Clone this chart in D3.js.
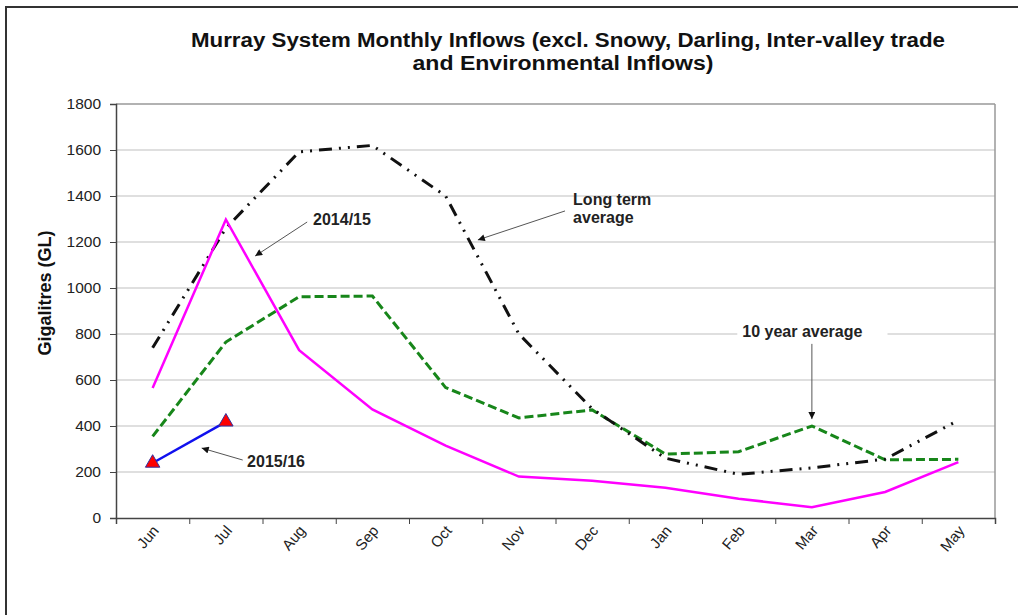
<!DOCTYPE html>
<html>
<head>
<meta charset="utf-8">
<script src="https://cdn.jsdelivr.net/npm/d3@7"></script>
<style>
  body { margin: 0; background: #fff; }
  text { font-family: "Liberation Sans", Arial, sans-serif; }
</style>
</head>
<body>
<div id="chart"></div>
<script>
// chart values
var months = ["Jun", "Jul", "Aug", "Sep", "Oct", "Nov", "Dec", "Jan", "Feb", "Mar", "Apr", "May"];
var longTermAvg = [740, 1260, 1592, 1620, 1400, 800, 475, 260, 190, 218, 256, 425];
var tenYearAvg = [355, 765, 962, 965, 567, 435, 470, 278, 288, 400, 253, 255];
var inflows1415 = [565, 1298, 730, 472, 315, 180, 162, 132, 84, 47, 113, 243];
var inflows1516 = [239, 418];
var yTicks = [0, 200, 400, 600, 800, 1000, 1200, 1400, 1600, 1800];

var W = 1018, H = 615;
var margin = {top: 104, right: 23, bottom: 97, left: 116};
var width = W - margin.left - margin.right,
    height = H - margin.top - margin.bottom;

var svg = d3.select("#chart").append("svg")
    .attr("width", W).attr("height", H);

// outer frame (only top and left show)
svg.append("rect")
    .attr("x", 6).attr("y", 7)
    .attr("width", W + 20).attr("height", H + 20)
    .attr("fill", "none").attr("stroke", "#333").attr("stroke-width", 2);

// title
var title = svg.append("text")
    .attr("text-anchor", "middle")
    .attr("font-size", 20).attr("font-weight", "bold")
    .attr("fill", "#111");
title.append("tspan").attr("x", 568).attr("y", 47)
    .attr("textLength", 754).attr("lengthAdjust", "spacingAndGlyphs")
    .text("Murray System Monthly Inflows (excl. Snowy, Darling, Inter-valley trade");
title.append("tspan").attr("x", 563).attr("y", 70)
    .attr("textLength", 301).attr("lengthAdjust", "spacingAndGlyphs")
    .text("and Environmental Inflows)");

var g = svg.append("g")
    .attr("transform", "translate(" + margin.left + "," + margin.top + ")");

var x = d3.scaleBand().domain(months).range([0, width]);
var y = d3.scaleLinear().domain([0, 1800]).range([height, 0]);
var xi = d3.scaleLinear().domain([-0.5, months.length - 0.5]).range([0, width]);

// grid
g.selectAll("line.grid")
    .data(yTicks.slice(1))
    .enter().append("line")
    .attr("class", "grid")
    .attr("x1", 0).attr("x2", width)
    .attr("y1", function (d) { return y(d); })
    .attr("y2", function (d) { return y(d); })
    .attr("stroke", function (d) { return d === 1800 ? "#999" : "#d4d4d4"; })
    .attr("stroke-width", 1.5);

g.append("line")
    .attr("x1", width).attr("x2", width)
    .attr("y1", 0).attr("y2", height)
    .attr("stroke", "#999").attr("stroke-width", 1.5);

// axes
var yAxis = d3.axisLeft(y).tickValues(yTicks).tickFormat(d3.format("d"))
    .tickSize(6).tickPadding(9);
var yG = g.append("g").call(yAxis);
yG.select(".domain").attr("stroke", "#444").attr("stroke-width", 1.5);
yG.selectAll(".tick line").attr("stroke", "#444");
yG.selectAll("text")
    .attr("font-size", 15.5).attr("fill", "#222")
    .style("font-family", "'Liberation Sans', Arial, sans-serif");

var xAxis = d3.axisBottom(xi)
    .tickValues(d3.range(-0.5, months.length, 1))
    .tickSize(6).tickFormat("");
var xG = g.append("g").attr("transform", "translate(0," + height + ")").call(xAxis);
xG.select(".domain").attr("stroke", "#444").attr("stroke-width", 1.5);
xG.selectAll(".tick line").attr("stroke", "#444");

g.selectAll("text.month")
    .data(months)
    .enter().append("text")
    .attr("class", "month")
    .attr("text-anchor", "end")
    .attr("font-size", 15).attr("fill", "#222")
    .attr("transform", function (d) {
        return "translate(" + (x(d) + x.bandwidth() / 2 + 7) + "," + (height + 13) + ") rotate(-50)";
    })
    .text(function (d) { return d; });

svg.append("text")
    .attr("transform", "translate(51,293) rotate(-90)")
    .attr("text-anchor", "middle")
    .attr("font-size", 18).attr("font-weight", "bold").attr("fill", "#111")
    .text("Gigalitres (GL)");

// lines
var line = d3.line()
    .x(function (d, i) { return x(months[i]) + x.bandwidth() / 2; })
    .y(function (d) { return y(d); });

g.append("path").datum(tenYearAvg)
    .attr("d", line).attr("fill", "none")
    .attr("stroke", "#17861a").attr("stroke-width", 3)
    .attr("stroke-dasharray", "9,4");

g.append("path").datum(longTermAvg)
    .attr("d", line).attr("fill", "none")
    .attr("stroke", "#111").attr("stroke-width", 3)
    .attr("stroke-dasharray", "13,7,2,7,2,7");

g.append("path").datum(inflows1415)
    .attr("d", line).attr("fill", "none")
    .attr("stroke", "#ff00ff").attr("stroke-width", 2.5);

g.append("path").datum(inflows1516)
    .attr("d", line).attr("fill", "none")
    .attr("stroke", "#1010ee").attr("stroke-width", 2.5);

var tri = d3.symbol().type(d3.symbolTriangle).size(90);
g.selectAll("path.pt")
    .data(inflows1516)
    .enter().append("path")
    .attr("class", "pt")
    .attr("d", tri)
    .attr("transform", function (d, i) {
        return "translate(" + (x(months[i]) + x.bandwidth() / 2) + "," + y(d) + ")";
    })
    .attr("fill", "#ff0000").attr("stroke", "#3030a0").attr("stroke-width", 1);

// annotations (positions in month-index / GL units)
var notes = [
    {lines: ["2014/15"], tx: 2.19, ty: 1274, from: [2.11, 1287], to: [1.40, 1139]},
    {lines: ["Long term", "average"], tx: 5.74, ty: 1361, from: [5.63, 1335], to: [4.44, 1209]},
    {lines: ["10 year average"], tx: 8.05, ty: 787, from: [9.0, 757], to: [9.0, 430], box: true},
    {lines: ["2015/16"], tx: 1.29, ty: 222, from: [1.23, 252], to: [0.67, 304]}
];

svg.append("defs").append("marker")
    .attr("id", "arrow")
    .attr("viewBox", "0 0 10 10")
    .attr("refX", 10).attr("refY", 5)
    .attr("markerWidth", 9).attr("markerHeight", 7)
    .attr("markerUnits", "userSpaceOnUse")
    .attr("orient", "auto")
    .append("path").attr("d", "M0,0L10,5L0,10Z").attr("fill", "#111");

notes.forEach(function (n) {
    var t = g.append("text")
        .attr("font-size", 16).attr("font-weight", "bold").attr("fill", "#222");
    n.lines.forEach(function (s, k) {
        t.append("tspan").attr("x", xi(n.tx)).attr("y", y(n.ty) + k * 18).text(s);
    });
    if (n.box) {
        var bb = t.node().getBBox();
        g.insert("rect", function () { return t.node(); })
            .attr("x", bb.x - 5).attr("y", bb.y - 1)
            .attr("width", bb.width + 30).attr("height", bb.height + 2)
            .attr("fill", "#fff");
    }
    g.append("line")
        .attr("x1", xi(n.from[0])).attr("y1", y(n.from[1]))
        .attr("x2", xi(n.to[0])).attr("y2", y(n.to[1]))
        .attr("stroke", "#555").attr("stroke-width", 1)
        .attr("marker-end", "url(#arrow)");
});
</script>
</body>
</html>
